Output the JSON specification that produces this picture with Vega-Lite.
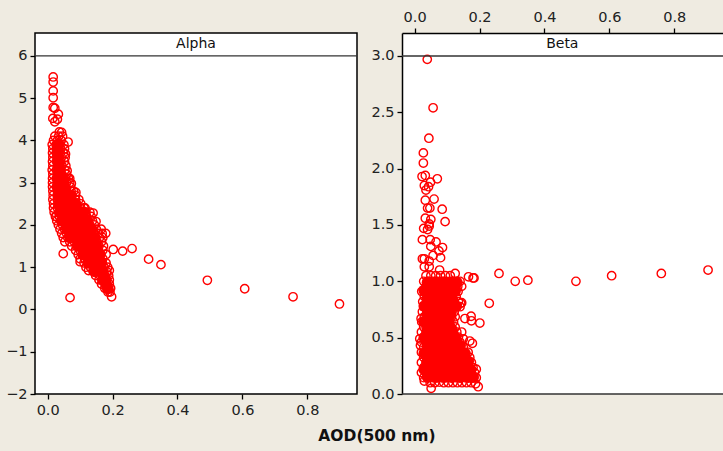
{"$schema":"https://vega.github.io/schema/vega-lite/v6.json","padding":{"left":0,"right":0,"top":9,"bottom":6},"background":"#efebe1","autosize":{"type":"pad"},
"config":{"view":{"stroke":"#000","strokeWidth":1.5,"fill":"#fff"},"font":"DejaVu Sans","axis":{"grid":false,"domain":false,"tickColor":"#000","tickWidth":1.3,"tickSize":5,"labelFont":"DejaVu Sans","labelFontSize":14.5,"labelColor":"#222","labelPadding":3,"title":null}},
"title":{"text":"AOD(500 nm)","orient":"bottom","anchor":"middle","font":"DejaVu Sans","fontSize":15.5,"fontWeight":"bold","color":"#111","offset":12,"dx":15},
"datasets":{
"alpha":[
{"x":0.017,"y":5.5},{"x":0.017,"y":5.38},{"x":0.017,"y":5.17},{"x":0.017,"y":5.01},{"x":0.017,"y":4.78},{"x":0.022,"y":4.76},{"x":0.033,"y":4.62},{"x":0.016,"y":4.52},{"x":0.022,"y":4.44},{"x":0.03,"y":4.5},{"x":0.043,"y":4.19},{"x":0.036,"y":4.2},{"x":0.063,"y":3.96},{"x":0.055,"y":3.68},{"x":0.06,"y":3.28},{"x":0.068,"y":3.1},{"x":0.073,"y":2.98},{"x":0.087,"y":2.77},{"x":0.115,"y":2.4},{"x":0.14,"y":2.28},{"x":0.149,"y":2.08},{"x":0.026,"y":2.2},{"x":0.048,"y":1.32},{"x":0.069,"y":0.28},{"x":0.197,"y":0.3},{"x":0.202,"y":1.42},{"x":0.231,"y":1.38},{"x":0.26,"y":1.44},{"x":0.311,"y":1.19},{"x":0.349,"y":1.06},{"x":0.492,"y":0.69},{"x":0.607,"y":0.49},{"x":0.756,"y":0.3},{"x":0.899,"y":0.13},{"x":0.179,"y":1.8},{"x":0.165,"y":1.9},{"x":0.18,"y":1.3},
{"x":0.022,"y":4.1},{"x":0.034,"y":4.1},{"x":0.046,"y":4.1},
{"x":0.018,"y":4.0},{"x":0.03,"y":4.0},{"x":0.042,"y":4.0},
{"x":0.014,"y":3.9},{"x":0.026,"y":3.9},{"x":0.038,"y":3.9},{"x":0.05,"y":3.9},
{"x":0.016,"y":3.8},{"x":0.028,"y":3.8},{"x":0.04,"y":3.8},{"x":0.052,"y":3.8},
{"x":0.015,"y":3.7},{"x":0.027,"y":3.7},{"x":0.039,"y":3.7},{"x":0.049,"y":3.7},
{"x":0.016,"y":3.6},{"x":0.029,"y":3.6},{"x":0.042,"y":3.6},{"x":0.054,"y":3.6},
{"x":0.015,"y":3.5},{"x":0.028,"y":3.5},{"x":0.04,"y":3.5},{"x":0.052,"y":3.5},
{"x":0.016,"y":3.4},{"x":0.03,"y":3.4},{"x":0.044,"y":3.4},{"x":0.056,"y":3.4},
{"x":0.014,"y":3.3},{"x":0.027,"y":3.3},{"x":0.04,"y":3.3},{"x":0.053,"y":3.3},
{"x":0.016,"y":3.2},{"x":0.03,"y":3.2},{"x":0.044,"y":3.2},{"x":0.058,"y":3.2},
{"x":0.015,"y":3.1},{"x":0.028,"y":3.1},{"x":0.042,"y":3.1},{"x":0.056,"y":3.1},{"x":0.064,"y":3.1},
{"x":0.015,"y":3.0},{"x":0.03,"y":3.0},{"x":0.044,"y":3.0},{"x":0.058,"y":3.0},{"x":0.068,"y":3.0},
{"x":0.015,"y":2.9},{"x":0.028,"y":2.9},{"x":0.042,"y":2.9},{"x":0.056,"y":2.9},{"x":0.07,"y":2.9},
{"x":0.016,"y":2.8},{"x":0.03,"y":2.8},{"x":0.044,"y":2.8},{"x":0.058,"y":2.8},{"x":0.072,"y":2.8},{"x":0.08,"y":2.8},
{"x":0.017,"y":2.7},{"x":0.03,"y":2.7},{"x":0.044,"y":2.7},{"x":0.058,"y":2.7},{"x":0.072,"y":2.7},{"x":0.086,"y":2.7},
{"x":0.016,"y":2.6},{"x":0.03,"y":2.6},{"x":0.044,"y":2.6},{"x":0.058,"y":2.6},{"x":0.072,"y":2.6},{"x":0.086,"y":2.6},{"x":0.096,"y":2.6},
{"x":0.018,"y":2.5},{"x":0.032,"y":2.5},{"x":0.046,"y":2.5},{"x":0.06,"y":2.5},{"x":0.074,"y":2.5},{"x":0.088,"y":2.5},{"x":0.102,"y":2.5},
{"x":0.018,"y":2.4},{"x":0.03,"y":2.4},{"x":0.044,"y":2.4},{"x":0.058,"y":2.4},{"x":0.072,"y":2.4},{"x":0.086,"y":2.4},{"x":0.1,"y":2.4},{"x":0.112,"y":2.4},
{"x":0.02,"y":2.3},{"x":0.034,"y":2.3},{"x":0.048,"y":2.3},{"x":0.062,"y":2.3},{"x":0.076,"y":2.3},{"x":0.09,"y":2.3},{"x":0.104,"y":2.3},{"x":0.118,"y":2.3},{"x":0.13,"y":2.3},
{"x":0.024,"y":2.2},{"x":0.036,"y":2.2},{"x":0.05,"y":2.2},{"x":0.064,"y":2.2},{"x":0.078,"y":2.2},{"x":0.092,"y":2.2},{"x":0.106,"y":2.2},{"x":0.12,"y":2.2},{"x":0.134,"y":2.2},
{"x":0.028,"y":2.1},{"x":0.04,"y":2.1},{"x":0.054,"y":2.1},{"x":0.068,"y":2.1},{"x":0.082,"y":2.1},{"x":0.096,"y":2.1},{"x":0.11,"y":2.1},{"x":0.124,"y":2.1},{"x":0.138,"y":2.1},
{"x":0.033,"y":2.0},{"x":0.046,"y":2.0},{"x":0.06,"y":2.0},{"x":0.074,"y":2.0},{"x":0.088,"y":2.0},{"x":0.102,"y":2.0},{"x":0.116,"y":2.0},{"x":0.13,"y":2.0},{"x":0.144,"y":2.0},
{"x":0.038,"y":1.9},{"x":0.052,"y":1.9},{"x":0.066,"y":1.9},{"x":0.08,"y":1.9},{"x":0.094,"y":1.9},{"x":0.108,"y":1.9},{"x":0.122,"y":1.9},{"x":0.136,"y":1.9},{"x":0.15,"y":1.9},
{"x":0.043,"y":1.8},{"x":0.058,"y":1.8},{"x":0.072,"y":1.8},{"x":0.086,"y":1.8},{"x":0.1,"y":1.8},{"x":0.114,"y":1.8},{"x":0.128,"y":1.8},{"x":0.142,"y":1.8},{"x":0.156,"y":1.8},{"x":0.168,"y":1.8},
{"x":0.048,"y":1.7},{"x":0.062,"y":1.7},{"x":0.076,"y":1.7},{"x":0.09,"y":1.7},{"x":0.104,"y":1.7},{"x":0.118,"y":1.7},{"x":0.132,"y":1.7},{"x":0.146,"y":1.7},{"x":0.16,"y":1.7},{"x":0.17,"y":1.7},
{"x":0.053,"y":1.6},{"x":0.068,"y":1.6},{"x":0.082,"y":1.6},{"x":0.096,"y":1.6},{"x":0.11,"y":1.6},{"x":0.124,"y":1.6},{"x":0.138,"y":1.6},{"x":0.152,"y":1.6},{"x":0.166,"y":1.6},
{"x":0.074,"y":1.5},{"x":0.088,"y":1.5},{"x":0.102,"y":1.5},{"x":0.116,"y":1.5},{"x":0.13,"y":1.5},{"x":0.144,"y":1.5},{"x":0.158,"y":1.5},{"x":0.172,"y":1.5},
{"x":0.086,"y":1.4},{"x":0.1,"y":1.4},{"x":0.114,"y":1.4},{"x":0.128,"y":1.4},{"x":0.142,"y":1.4},{"x":0.156,"y":1.4},{"x":0.17,"y":1.4},
{"x":0.094,"y":1.3},{"x":0.108,"y":1.3},{"x":0.122,"y":1.3},{"x":0.136,"y":1.3},{"x":0.15,"y":1.3},{"x":0.164,"y":1.3},
{"x":0.1,"y":1.2},{"x":0.114,"y":1.2},{"x":0.128,"y":1.2},{"x":0.142,"y":1.2},{"x":0.156,"y":1.2},{"x":0.17,"y":1.2},
{"x":0.1,"y":1.13},{"x":0.112,"y":1.1},{"x":0.126,"y":1.1},{"x":0.14,"y":1.1},{"x":0.154,"y":1.1},{"x":0.168,"y":1.1},{"x":0.18,"y":1.1},
{"x":0.118,"y":1.0},{"x":0.132,"y":1.0},{"x":0.146,"y":1.0},{"x":0.16,"y":1.0},{"x":0.174,"y":1.0},{"x":0.185,"y":1.0},
{"x":0.126,"y":0.92},{"x":0.14,"y":0.9},{"x":0.154,"y":0.9},{"x":0.168,"y":0.9},{"x":0.182,"y":0.9},{"x":0.19,"y":0.92},
{"x":0.148,"y":0.8},{"x":0.162,"y":0.8},{"x":0.176,"y":0.8},{"x":0.188,"y":0.8},
{"x":0.158,"y":0.7},{"x":0.17,"y":0.7},{"x":0.182,"y":0.7},{"x":0.19,"y":0.7},
{"x":0.166,"y":0.6},{"x":0.178,"y":0.6},{"x":0.19,"y":0.6},
{"x":0.176,"y":0.5},{"x":0.186,"y":0.5},{"x":0.194,"y":0.5},
{"x":0.186,"y":0.41},{"x":0.192,"y":0.41}
],
"alphaCore":[
{"x":0.032,"y":3.9},{"x":0.03,"y":3.7},{"x":0.032,"y":3.5},{"x":0.034,"y":3.3},{"x":0.03,"y":3.1},{"x":0.048,"y":3.1},{"x":0.03,"y":2.9},{"x":0.05,"y":2.9},{"x":0.033,"y":2.7},{"x":0.058,"y":2.7},{"x":0.072,"y":2.7},{"x":0.035,"y":2.5},{"x":0.06,"y":2.5},{"x":0.085,"y":2.5},{"x":0.04,"y":2.3},{"x":0.065,"y":2.3},{"x":0.09,"y":2.3},{"x":0.11,"y":2.3},{"x":0.045,"y":2.1},{"x":0.07,"y":2.1},{"x":0.095,"y":2.1},{"x":0.12,"y":2.1},{"x":0.06,"y":1.9},{"x":0.085,"y":1.9},{"x":0.11,"y":1.9},{"x":0.135,"y":1.9},{"x":0.07,"y":1.7},{"x":0.095,"y":1.7},{"x":0.12,"y":1.7},{"x":0.145,"y":1.7},{"x":0.095,"y":1.5},{"x":0.12,"y":1.5},{"x":0.15,"y":1.5},{"x":0.11,"y":1.3},{"x":0.135,"y":1.3},{"x":0.16,"y":1.3},{"x":0.125,"y":1.1},{"x":0.15,"y":1.1},{"x":0.165,"y":1.1},{"x":0.145,"y":0.9},{"x":0.17,"y":0.9},{"x":0.17,"y":0.7},{"x":0.178,"y":0.7},{"x":0.185,"y":0.5},
{"x":0.03,"y":3.8},{"x":0.032,"y":3.6},{"x":0.035,"y":3.4},{"x":0.036,"y":3.2},{"x":0.042,"y":3.0},{"x":0.042,"y":2.8},{"x":0.06,"y":2.6},{"x":0.172,"y":0.8},{"x":0.18,"y":0.6}
],
"beta":[
{"x":0.039,"y":2.97},{"x":0.057,"y":2.54},{"x":0.044,"y":2.27},{"x":0.027,"y":2.14},{"x":0.027,"y":2.05},{"x":0.023,"y":1.93},{"x":0.033,"y":1.94},{"x":0.07,"y":1.91},{"x":0.049,"y":1.88},{"x":0.03,"y":1.85},{"x":0.043,"y":1.84},{"x":0.035,"y":1.81},{"x":0.06,"y":1.73},{"x":0.033,"y":1.72},{"x":0.085,"y":1.64},{"x":0.04,"y":1.65},{"x":0.047,"y":1.65},{"x":0.094,"y":1.53},{"x":0.033,"y":1.56},{"x":0.05,"y":1.55},{"x":0.045,"y":1.51},{"x":0.028,"y":1.47},{"x":0.04,"y":1.46},{"x":0.045,"y":1.49},{"x":0.024,"y":1.37},{"x":0.048,"y":1.37},{"x":0.066,"y":1.35},{"x":0.05,"y":1.31},{"x":0.086,"y":1.3},{"x":0.075,"y":1.27},{"x":0.057,"y":1.23},{"x":0.08,"y":1.21},{"x":0.024,"y":1.2},{"x":0.03,"y":1.2},{"x":0.045,"y":1.18},{"x":0.03,"y":1.13},{"x":0.045,"y":1.13},{"x":0.077,"y":1.1},
{"x":0.166,"y":1.04},{"x":0.18,"y":1.03},{"x":0.183,"y":1.03},{"x":0.125,"y":1.07},{"x":0.26,"y":1.07},{"x":0.31,"y":1.0},{"x":0.349,"y":1.01},{"x":0.497,"y":1.0},{"x":0.607,"y":1.05},{"x":0.76,"y":1.07},{"x":0.904,"y":1.1},{"x":0.23,"y":0.805},{"x":0.142,"y":0.805},{"x":0.145,"y":0.81},{"x":0.174,"y":0.69},{"x":0.155,"y":0.67},{"x":0.175,"y":0.65},{"x":0.201,"y":0.63},{"x":0.145,"y":0.55},{"x":0.17,"y":0.47},{"x":0.178,"y":0.45},{"x":0.15,"y":0.49},{"x":0.19,"y":0.22},{"x":0.196,"y":0.065},{"x":0.051,"y":0.05},{"x":0.016,"y":0.49},{"x":0.018,"y":0.43},{"x":0.02,"y":0.67},
{"x":0.035,"y":1.05},{"x":0.05,"y":1.05},{"x":0.065,"y":1.05},{"x":0.08,"y":1.05},{"x":0.095,"y":1.05},{"x":0.11,"y":1.05},
{"x":0.028,"y":1.0},{"x":0.042,"y":1.0},{"x":0.056,"y":1.0},{"x":0.07,"y":1.0},{"x":0.084,"y":1.0},{"x":0.098,"y":1.0},{"x":0.112,"y":1.0},{"x":0.126,"y":1.0},{"x":0.14,"y":1.0},
{"x":0.035,"y":0.955},{"x":0.049,"y":0.955},{"x":0.063,"y":0.955},{"x":0.077,"y":0.955},{"x":0.091,"y":0.955},{"x":0.105,"y":0.955},{"x":0.119,"y":0.955},{"x":0.133,"y":0.955},{"x":0.145,"y":0.955},
{"x":0.022,"y":0.91},{"x":0.036,"y":0.91},{"x":0.05,"y":0.91},{"x":0.064,"y":0.91},{"x":0.078,"y":0.91},{"x":0.092,"y":0.91},{"x":0.106,"y":0.91},{"x":0.12,"y":0.91},{"x":0.134,"y":0.91},
{"x":0.03,"y":0.865},{"x":0.044,"y":0.865},{"x":0.058,"y":0.865},{"x":0.072,"y":0.865},{"x":0.086,"y":0.865},{"x":0.1,"y":0.865},{"x":0.114,"y":0.865},{"x":0.128,"y":0.865},
{"x":0.025,"y":0.82},{"x":0.038,"y":0.82},{"x":0.052,"y":0.82},{"x":0.066,"y":0.82},{"x":0.08,"y":0.82},{"x":0.094,"y":0.82},{"x":0.108,"y":0.82},{"x":0.122,"y":0.82},{"x":0.135,"y":0.82},
{"x":0.032,"y":0.775},{"x":0.046,"y":0.775},{"x":0.06,"y":0.775},{"x":0.074,"y":0.775},{"x":0.088,"y":0.775},{"x":0.102,"y":0.775},{"x":0.116,"y":0.775},{"x":0.13,"y":0.775},{"x":0.14,"y":0.775},
{"x":0.024,"y":0.73},{"x":0.038,"y":0.73},{"x":0.052,"y":0.73},{"x":0.066,"y":0.73},{"x":0.08,"y":0.73},{"x":0.094,"y":0.73},{"x":0.108,"y":0.73},{"x":0.122,"y":0.73},
{"x":0.03,"y":0.685},{"x":0.044,"y":0.685},{"x":0.058,"y":0.685},{"x":0.072,"y":0.685},{"x":0.086,"y":0.685},{"x":0.1,"y":0.685},{"x":0.114,"y":0.685},{"x":0.125,"y":0.685},
{"x":0.022,"y":0.64},{"x":0.036,"y":0.64},{"x":0.05,"y":0.64},{"x":0.064,"y":0.64},{"x":0.078,"y":0.64},{"x":0.092,"y":0.64},{"x":0.106,"y":0.64},{"x":0.12,"y":0.64},
{"x":0.028,"y":0.595},{"x":0.042,"y":0.595},{"x":0.056,"y":0.595},{"x":0.07,"y":0.595},{"x":0.084,"y":0.595},{"x":0.098,"y":0.595},{"x":0.112,"y":0.595},{"x":0.125,"y":0.595},
{"x":0.021,"y":0.55},{"x":0.035,"y":0.55},{"x":0.049,"y":0.55},{"x":0.063,"y":0.55},{"x":0.077,"y":0.55},{"x":0.091,"y":0.55},{"x":0.105,"y":0.55},{"x":0.119,"y":0.55},{"x":0.13,"y":0.55},
{"x":0.028,"y":0.505},{"x":0.042,"y":0.505},{"x":0.056,"y":0.505},{"x":0.07,"y":0.505},{"x":0.084,"y":0.505},{"x":0.098,"y":0.505},{"x":0.112,"y":0.505},{"x":0.126,"y":0.505},{"x":0.135,"y":0.505},
{"x":0.021,"y":0.46},{"x":0.035,"y":0.46},{"x":0.049,"y":0.46},{"x":0.063,"y":0.46},{"x":0.077,"y":0.46},{"x":0.091,"y":0.46},{"x":0.105,"y":0.46},{"x":0.119,"y":0.46},{"x":0.133,"y":0.46},{"x":0.14,"y":0.46},
{"x":0.028,"y":0.415},{"x":0.042,"y":0.415},{"x":0.056,"y":0.415},{"x":0.07,"y":0.415},{"x":0.084,"y":0.415},{"x":0.098,"y":0.415},{"x":0.112,"y":0.415},{"x":0.126,"y":0.415},{"x":0.14,"y":0.415},{"x":0.15,"y":0.415},
{"x":0.021,"y":0.37},{"x":0.035,"y":0.37},{"x":0.049,"y":0.37},{"x":0.063,"y":0.37},{"x":0.077,"y":0.37},{"x":0.091,"y":0.37},{"x":0.105,"y":0.37},{"x":0.119,"y":0.37},{"x":0.133,"y":0.37},{"x":0.147,"y":0.37},{"x":0.165,"y":0.37},
{"x":0.028,"y":0.325},{"x":0.042,"y":0.325},{"x":0.056,"y":0.325},{"x":0.07,"y":0.325},{"x":0.084,"y":0.325},{"x":0.098,"y":0.325},{"x":0.112,"y":0.325},{"x":0.126,"y":0.325},{"x":0.14,"y":0.325},{"x":0.154,"y":0.325},{"x":0.17,"y":0.325},
{"x":0.021,"y":0.28},{"x":0.035,"y":0.28},{"x":0.049,"y":0.28},{"x":0.063,"y":0.28},{"x":0.077,"y":0.28},{"x":0.091,"y":0.28},{"x":0.105,"y":0.28},{"x":0.119,"y":0.28},{"x":0.133,"y":0.28},{"x":0.147,"y":0.28},{"x":0.161,"y":0.28},{"x":0.175,"y":0.28},
{"x":0.028,"y":0.235},{"x":0.042,"y":0.235},{"x":0.056,"y":0.235},{"x":0.07,"y":0.235},{"x":0.084,"y":0.235},{"x":0.098,"y":0.235},{"x":0.112,"y":0.235},{"x":0.126,"y":0.235},{"x":0.14,"y":0.235},{"x":0.154,"y":0.235},{"x":0.168,"y":0.235},{"x":0.18,"y":0.235},
{"x":0.021,"y":0.19},{"x":0.035,"y":0.19},{"x":0.049,"y":0.19},{"x":0.063,"y":0.19},{"x":0.077,"y":0.19},{"x":0.091,"y":0.19},{"x":0.105,"y":0.19},{"x":0.119,"y":0.19},{"x":0.133,"y":0.19},{"x":0.147,"y":0.19},{"x":0.161,"y":0.19},{"x":0.175,"y":0.19},{"x":0.185,"y":0.19},
{"x":0.028,"y":0.145},{"x":0.042,"y":0.145},{"x":0.056,"y":0.145},{"x":0.07,"y":0.145},{"x":0.084,"y":0.145},{"x":0.098,"y":0.145},{"x":0.112,"y":0.145},{"x":0.126,"y":0.145},{"x":0.14,"y":0.145},{"x":0.154,"y":0.145},{"x":0.168,"y":0.145},{"x":0.182,"y":0.145},{"x":0.19,"y":0.145},
{"x":0.03,"y":0.115},{"x":0.048,"y":0.1},{"x":0.062,"y":0.1},{"x":0.076,"y":0.105},{"x":0.09,"y":0.1},{"x":0.104,"y":0.1},{"x":0.118,"y":0.1},{"x":0.132,"y":0.1},{"x":0.146,"y":0.1},{"x":0.16,"y":0.1},{"x":0.174,"y":0.1},{"x":0.188,"y":0.09}
],
"betaCore":[
{"x":0.04,"y":0.99},{"x":0.065,"y":0.99},{"x":0.09,"y":0.99},{"x":0.115,"y":0.99},{"x":0.13,"y":0.99},
{"x":0.03,"y":0.92},{"x":0.055,"y":0.92},{"x":0.08,"y":0.92},{"x":0.105,"y":0.92},{"x":0.125,"y":0.92},
{"x":0.04,"y":0.85},{"x":0.065,"y":0.85},{"x":0.09,"y":0.85},{"x":0.115,"y":0.85},
{"x":0.03,"y":0.78},{"x":0.055,"y":0.78},{"x":0.08,"y":0.78},{"x":0.105,"y":0.78},{"x":0.128,"y":0.78},
{"x":0.04,"y":0.71},{"x":0.065,"y":0.71},{"x":0.09,"y":0.71},{"x":0.11,"y":0.71},
{"x":0.03,"y":0.64},{"x":0.055,"y":0.64},{"x":0.08,"y":0.64},{"x":0.105,"y":0.64},
{"x":0.04,"y":0.57},{"x":0.065,"y":0.57},{"x":0.09,"y":0.57},{"x":0.115,"y":0.57},
{"x":0.03,"y":0.5},{"x":0.055,"y":0.5},{"x":0.08,"y":0.5},{"x":0.105,"y":0.5},{"x":0.125,"y":0.5},
{"x":0.04,"y":0.43},{"x":0.065,"y":0.43},{"x":0.09,"y":0.43},{"x":0.115,"y":0.43},{"x":0.14,"y":0.43},
{"x":0.03,"y":0.36},{"x":0.055,"y":0.36},{"x":0.08,"y":0.36},{"x":0.105,"y":0.36},{"x":0.13,"y":0.36},{"x":0.155,"y":0.36},
{"x":0.04,"y":0.29},{"x":0.065,"y":0.29},{"x":0.09,"y":0.29},{"x":0.115,"y":0.29},{"x":0.14,"y":0.29},{"x":0.165,"y":0.29},
{"x":0.03,"y":0.22},{"x":0.055,"y":0.22},{"x":0.08,"y":0.22},{"x":0.105,"y":0.22},{"x":0.13,"y":0.22},{"x":0.155,"y":0.22},{"x":0.172,"y":0.22},
{"x":0.04,"y":0.15},{"x":0.065,"y":0.15},{"x":0.09,"y":0.15},{"x":0.115,"y":0.15},{"x":0.14,"y":0.15},{"x":0.165,"y":0.15},{"x":0.18,"y":0.15}
]},
"spacing":8,
"hconcat":[
{"width":322,"height":361,"layer":[
{"data":{"name":"alpha"},"mark":{"type":"point","filled":false,"color":"#ff0000","size":70,"strokeWidth":1.4,"opacity":1},
"encoding":{"x":{"field":"x","type":"quantitative","scale":{"domain":[-0.039,0.953],"nice":false,"zero":false},"axis":{"orient":"bottom","values":[0,0.2,0.4,0.6,0.8],"format":".1f","labelFlush":false,"labelPadding":4}},
"y":{"field":"y","type":"quantitative","scale":{"domain":[-2,6.54],"nice":false,"zero":false},"axis":{"values":[-2,-1,0,1,2,3,4,5,6],"minExtent":34,"maxExtent":34}}}},
{"data":{"name":"alphaCore"},"mark":{"type":"point","filled":true,"color":"#ff0000","size":140,"opacity":1},"encoding":{"x":{"field":"x","type":"quantitative"},"y":{"field":"y","type":"quantitative"}}},
{"data":{"values":[{"v":6}]},"mark":{"type":"rule","color":"#333","strokeWidth":1.3},"encoding":{"y":{"field":"v","type":"quantitative"}}},
{"data":{"values":[{"name":"Alpha","mx":0.457,"my":6.27}]},"mark":{"type":"text","font":"DejaVu Sans","fontSize":14,"color":"#111","baseline":"middle"},"encoding":{"text":{"field":"name"},"x":{"field":"mx","type":"quantitative"},"y":{"field":"my","type":"quantitative"}}}
]},
{"width":321,"height":361,"view":{"stroke":null},"layer":[
{"data":{"name":"beta"},"mark":{"type":"point","filled":false,"color":"#ff0000","size":70,"strokeWidth":1.4,"opacity":1},
"encoding":{"x":{"field":"x","type":"quantitative","scale":{"domain":[-0.0388,0.95],"nice":false,"zero":false},"axis":{"orient":"top","values":[0,0.2,0.4,0.6,0.8],"format":".1f","labelFlush":false,"labelPadding":4,"domain":true,"domainColor":"#000","domainWidth":1.5}},
"y":{"field":"y","type":"quantitative","scale":{"domain":[0,3.204],"nice":false,"zero":false},"axis":{"values":[0,0.5,1,1.5,2,2.5,3],"format":".1f","minExtent":35,"maxExtent":35,"domain":true,"domainColor":"#000","domainWidth":1.5}}}},
{"data":{"name":"betaCore"},"mark":{"type":"point","filled":true,"color":"#ff0000","size":140,"opacity":1},"encoding":{"x":{"field":"x","type":"quantitative"},"y":{"field":"y","type":"quantitative"}}},
{"data":{"values":[{"v":3},{"v":0}]},"mark":{"type":"rule","color":"#333","strokeWidth":1.3},"encoding":{"y":{"field":"v","type":"quantitative"}}},
{"data":{"values":[{"name":"Beta","mx":0.455,"my":3.102}]},"mark":{"type":"text","font":"DejaVu Sans","fontSize":14,"color":"#111","baseline":"middle"},"encoding":{"text":{"field":"name"},"x":{"field":"mx","type":"quantitative"},"y":{"field":"my","type":"quantitative"}}}
]}
]}
